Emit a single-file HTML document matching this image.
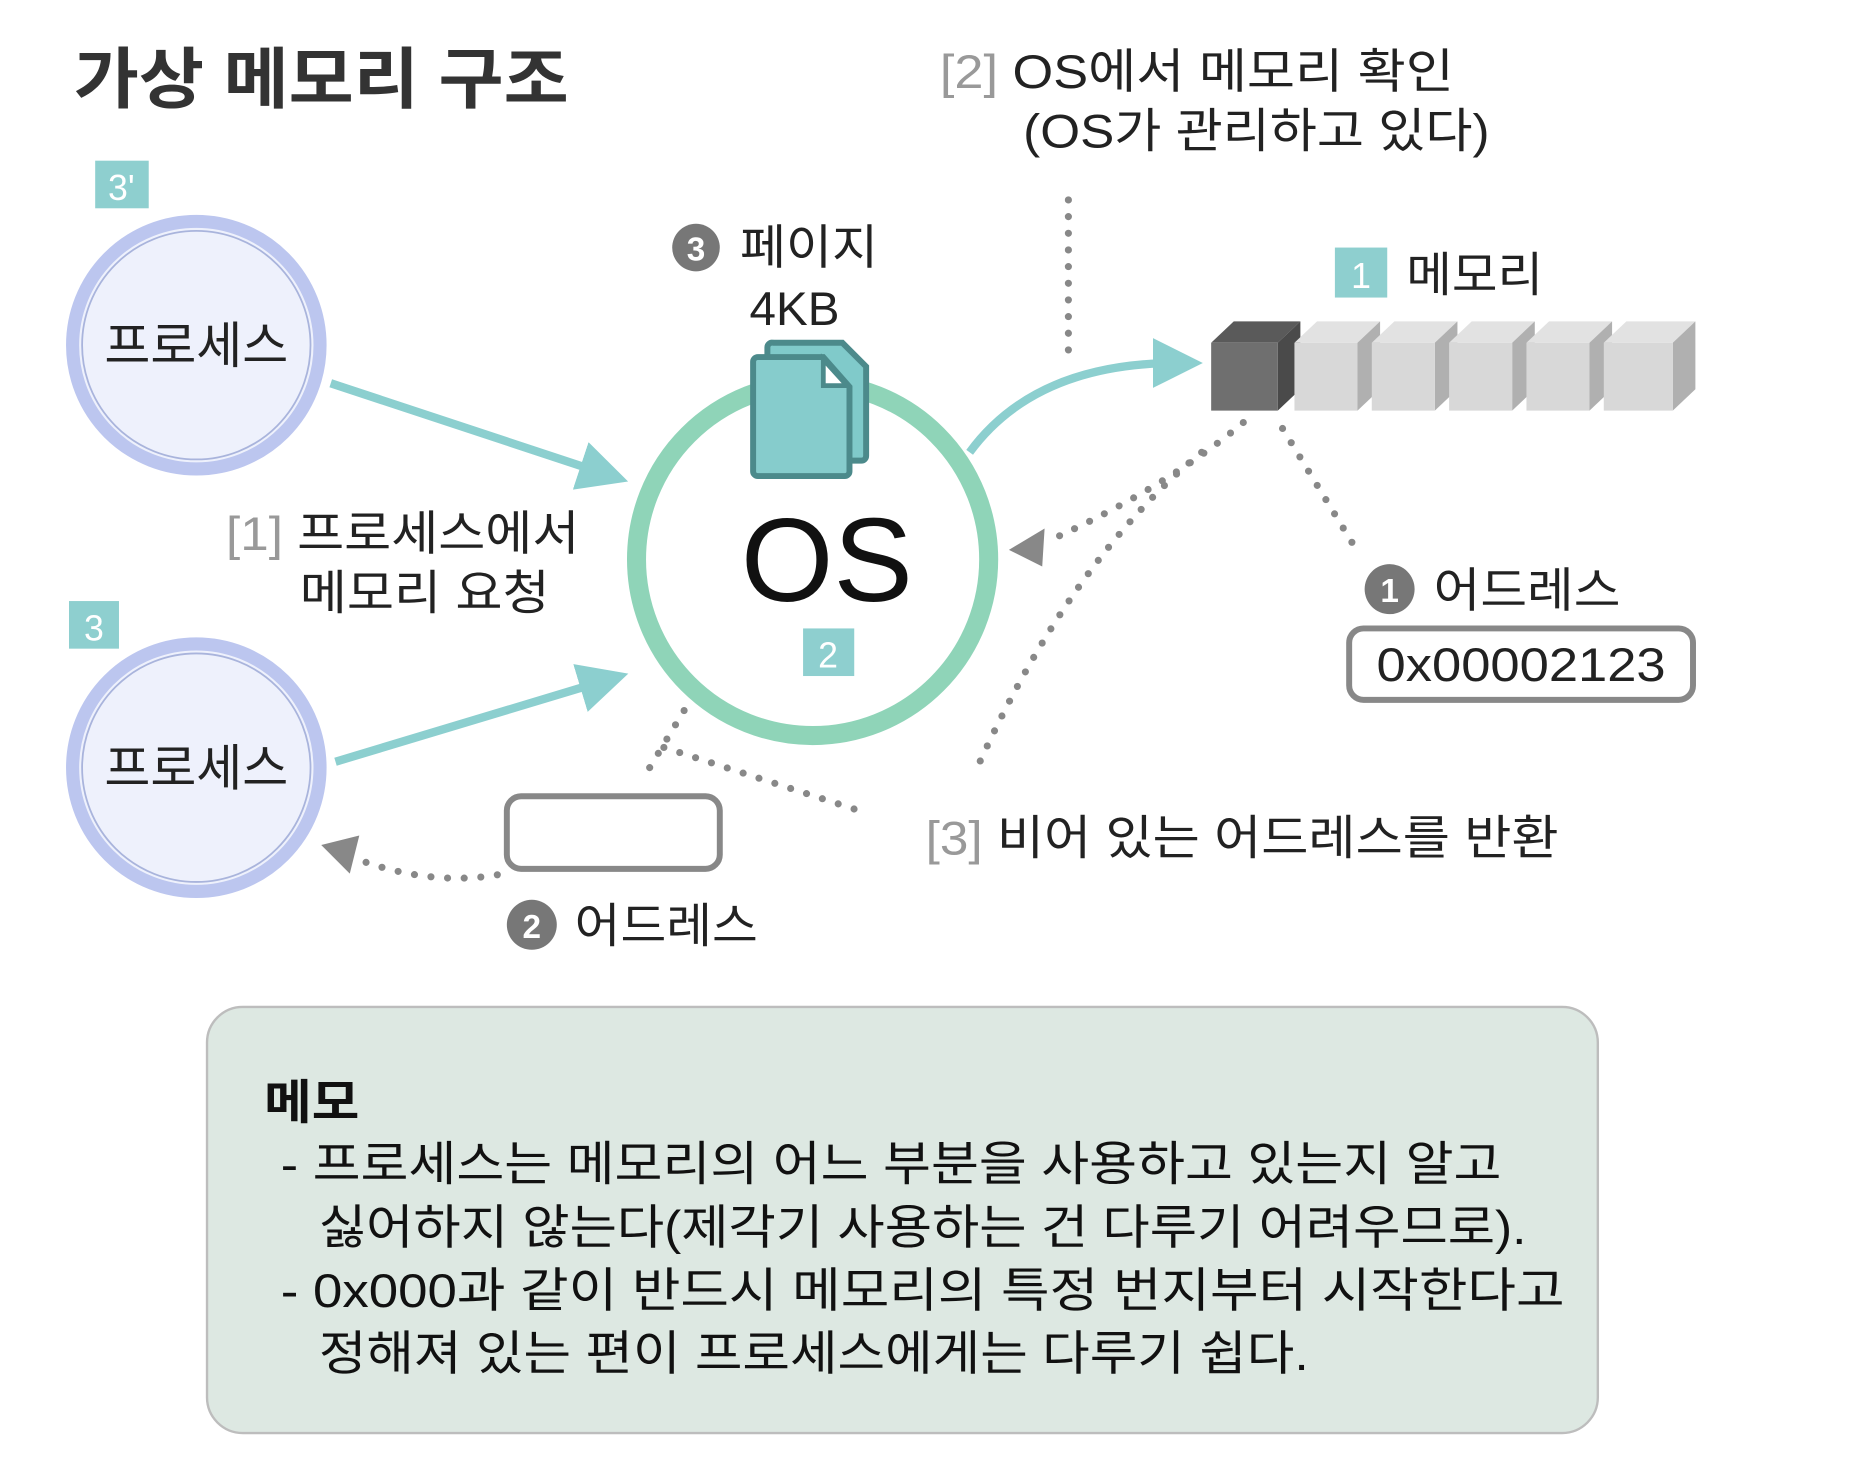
<!DOCTYPE html>
<html><head><meta charset="utf-8"><style>
html,body{margin:0;padding:0;background:#fff;}
svg{display:block;}
text{font-family:"Liberation Sans","Noto Sans CJK KR",sans-serif;}
</style></head><body>
<svg width="1856" height="1458" viewBox="0 0 1560 1225" preserveAspectRatio="none" xmlns="http://www.w3.org/2000/svg">
<defs>
<marker id="ta" markerWidth="6" markerHeight="6" refX="3" refY="3" orient="auto" markerUnits="strokeWidth"><path d="M0,0 L6,3 L0,6 Z" fill="#8ccfcf"/></marker>
</defs>
<rect width="1560" height="1225" fill="#fff"/>
<text x="62" y="86" font-size="56" font-weight="bold" fill="#333" textLength="416" lengthAdjust="spacingAndGlyphs">가상 메모리 구조</text>
<text x="790" y="74" font-size="40" fill="#222" textLength="432" lengthAdjust="spacingAndGlyphs"><tspan fill="#999">[2]</tspan> OS에서 메모리 확인</text>
<text x="860" y="124" font-size="40" fill="#222" textLength="392" lengthAdjust="spacingAndGlyphs">(OS가 관리하고 있다)</text>

<rect x="80" y="135" width="45" height="40" fill="#8ecfcf"/><text x="102" y="168" font-size="30" fill="#fff" text-anchor="middle">3'</text>
<circle cx="165" cy="290" r="104" fill="#eef1fc" stroke="#bcc6ef" stroke-width="11"/>
<circle cx="165" cy="290" r="96" fill="none" stroke="#a9b4dc" stroke-width="1.5"/>
<text x="165" y="305" font-size="42" fill="#222" text-anchor="middle">프로세스</text>
<rect x="58" y="505" width="42" height="40" fill="#8ecfcf"/><text x="79" y="538" font-size="30" fill="#fff" text-anchor="middle">3</text>
<circle cx="165" cy="645" r="104" fill="#eef1fc" stroke="#bcc6ef" stroke-width="11"/>
<circle cx="165" cy="645" r="96" fill="none" stroke="#a9b4dc" stroke-width="1.5"/>
<text x="165" y="660" font-size="42" fill="#222" text-anchor="middle">프로세스</text>

<line x1="278" y1="322" x2="508" y2="398" stroke="#8ccfcf" stroke-width="7" marker-end="url(#ta)"/>
<line x1="282" y1="640" x2="508" y2="572" stroke="#8ccfcf" stroke-width="7" marker-end="url(#ta)"/>

<circle cx="683" cy="470" r="148" fill="#fff" stroke="#8fd4b8" stroke-width="16"/>
<path d="M815,380 Q870,305 990,305" fill="none" stroke="#8ccfcf" stroke-width="7" marker-end="url(#ta)"/>
<text x="695" y="505" font-size="100" fill="#111" text-anchor="middle">OS</text>
<rect x="675" y="528" width="43" height="40" fill="#8ecfcf"/><text x="696" y="561" font-size="30" fill="#fff" text-anchor="middle">2</text>

<path d="M650,288 h58 l20,20 v75 a4,4 0 0 1 -4,4 h-75 a4,4 0 0 1 -4,-4 v-91 a4,4 0 0 1 5,-4z" fill="#80caca" stroke="#4c8a8b" stroke-width="5"/>
<path d="M637,300 h55 l22,25 v71 a4,4 0 0 1 -4,4 h-73 a4,4 0 0 1 -4,-4 v-92 a4,4 0 0 1 4,-4z" fill="#86cccc" stroke="#4c8a8b" stroke-width="5"/>
<path d="M692,302 v22 h20 z" fill="#fff" stroke="#4c8a8b" stroke-width="4"/>

<circle cx="585" cy="208" r="20" fill="#777"/><text x="585" y="219" font-size="28" font-weight="bold" fill="#fff" text-anchor="middle">3</text>
<text x="622" y="222" font-size="40" fill="#222" textLength="116" lengthAdjust="spacingAndGlyphs">페이지</text>
<text x="630" y="273" font-size="40" fill="#222">4KB</text>

<text x="190" y="462" font-size="40" fill="#222" textLength="297" lengthAdjust="spacingAndGlyphs"><tspan fill="#999">[1]</tspan> 프로세스에서</text>
<text x="252" y="512" font-size="40" fill="#222" textLength="210" lengthAdjust="spacingAndGlyphs">메모리 요청</text>

<line x1="898" y1="168" x2="898" y2="300" stroke="#888" stroke-width="6" stroke-linecap="round" stroke-dasharray="0 14"/>

<rect x="1122" y="208" width="44" height="42" fill="#8ecfcf"/><text x="1144" y="242" font-size="30" fill="#fff" text-anchor="middle">1</text>
<text x="1182" y="245" font-size="40" fill="#222" textLength="115" lengthAdjust="spacingAndGlyphs">메모리</text>
<g>
<polygon points="1018,288 1037,270 1093,270 1074,288" fill="#5a5a5a"/>
<polygon points="1074,288 1093,270 1093,327 1074,345" fill="#4a4a4a"/>
<rect x="1018" y="288" width="56" height="57" fill="#6f6f6f"/>
</g>
<g fill="#d8d8d8">
<polygon points="1088,288 1107,270 1160,270 1141,288" fill="#e2e2e2"/><polygon points="1141,288 1160,270 1160,327 1141,345" fill="#b0b0b0"/><rect x="1088" y="288" width="53" height="57"/>
<polygon points="1153,288 1172,270 1225,270 1206,288" fill="#e2e2e2"/><polygon points="1206,288 1225,270 1225,327 1206,345" fill="#b0b0b0"/><rect x="1153" y="288" width="53" height="57"/>
<polygon points="1218,288 1237,270 1290,270 1271,288" fill="#e2e2e2"/><polygon points="1271,288 1290,270 1290,327 1271,345" fill="#b0b0b0"/><rect x="1218" y="288" width="53" height="57"/>
<polygon points="1283,288 1302,270 1355,270 1336,288" fill="#e2e2e2"/><polygon points="1336,288 1355,270 1355,327 1336,345" fill="#b0b0b0"/><rect x="1283" y="288" width="53" height="57"/>
<polygon points="1348,288 1367,270 1425,270 1406,288" fill="#e2e2e2"/><polygon points="1406,288 1425,270 1425,327 1406,345" fill="#b0b0b0"/><rect x="1348" y="288" width="58" height="57"/>
</g>

<g stroke="#888" stroke-width="6" stroke-linecap="round" stroke-dasharray="0 14" fill="none">
<path d="M1045,355 Q980,410 880,455"/>
<path d="M1078,360 L1142,465"/>
<path d="M1010,380 Q900,470 820,648"/>
<path d="M575,597 L540,655"/>
<path d="M558,628 L728,683"/>
<path d="M418,735 Q360,745 295,720"/>
</g>
<polygon points="848,462 878,444 876,476" fill="#888"/>
<polygon points="270,710 302,702 294,734" fill="#888"/>

<circle cx="1168" cy="495" r="21" fill="#777"/><text x="1168" y="506" font-size="28" font-weight="bold" fill="#fff" text-anchor="middle">1</text>
<text x="1205" y="510" font-size="40" fill="#222" textLength="157" lengthAdjust="spacingAndGlyphs">어드레스</text>
<rect x="1134" y="528" width="289" height="60" rx="12" fill="#fff" stroke="#888" stroke-width="5"/>
<text x="1157" y="572" font-size="40" fill="#222" textLength="243" lengthAdjust="spacingAndGlyphs">0x00002123</text>

<rect x="426" y="669" width="179" height="61" rx="12" fill="#fff" stroke="#888" stroke-width="5"/>
<circle cx="447" cy="777" r="21" fill="#777"/><text x="447" y="788" font-size="28" font-weight="bold" fill="#fff" text-anchor="middle">2</text>
<text x="483" y="792" font-size="40" fill="#222" textLength="154" lengthAdjust="spacingAndGlyphs">어드레스</text>

<text x="778" y="718" font-size="40" fill="#222" textLength="532" lengthAdjust="spacingAndGlyphs"><tspan fill="#999">[3]</tspan> 비어 있는 어드레스를 반환</text>

<rect x="174" y="846" width="1169" height="358" rx="30" fill="#dde8e2" stroke="#bdbdbd" stroke-width="2"/>
<text x="222" y="940" font-size="40" font-weight="bold" fill="#111" textLength="80" lengthAdjust="spacingAndGlyphs">메모</text>
<g font-size="40" fill="#111">
<text x="236" y="992" textLength="1026" lengthAdjust="spacingAndGlyphs">- 프로세스는 메모리의 어느 부분을 사용하고 있는지 알고</text>
<text x="268" y="1045" textLength="1015" lengthAdjust="spacingAndGlyphs">싫어하지 않는다(제각기 사용하는 건 다루기 어려우므로).</text>
<text x="236" y="1098" textLength="1079" lengthAdjust="spacingAndGlyphs">- 0x000과 같이 반드시 메모리의 특정 번지부터 시작한다고</text>
<text x="268" y="1151" textLength="832" lengthAdjust="spacingAndGlyphs">정해져 있는 편이 프로세스에게는 다루기 쉽다.</text>
</g>
</svg>
</body></html>
